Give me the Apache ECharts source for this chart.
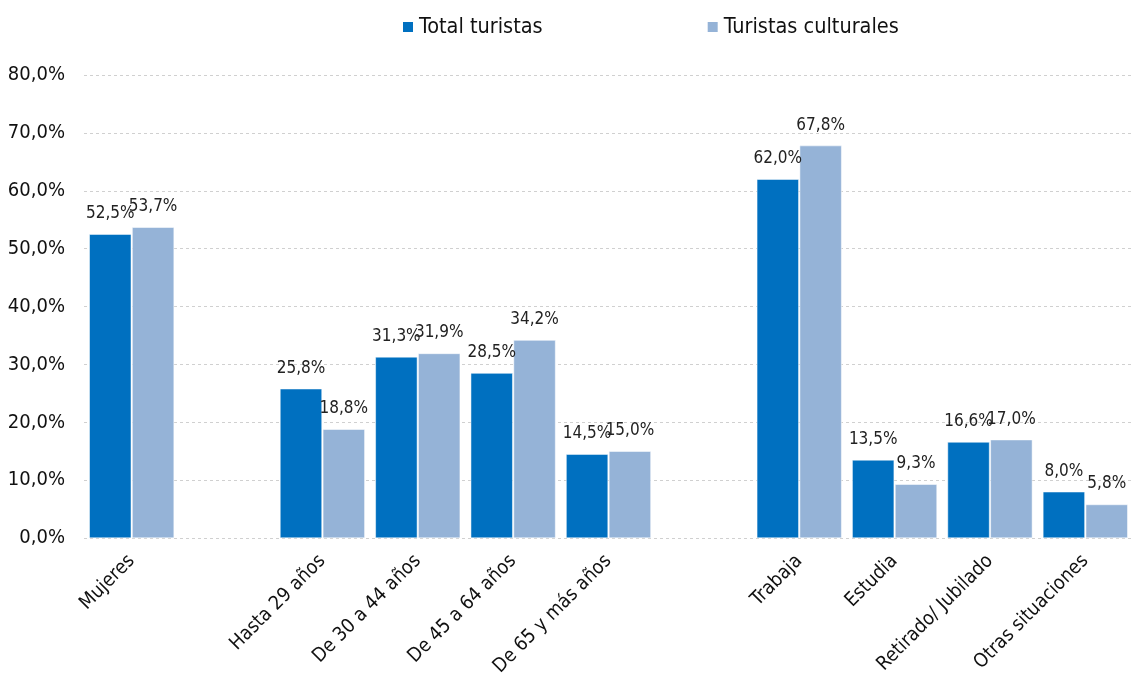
<!DOCTYPE html>
<html>
<head>
<meta charset="utf-8">
<script src="https://cdn.jsdelivr.net/npm/echarts@6/dist/echarts.min.js"></script>
<style>
  html, body { margin: 0; padding: 0; background: #ffffff; }
  #chart { width: 1137px; height: 679px; }
</style>
</head>
<body>
<div id="chart"></div>
<script>
// categorías (las vacías dejan el hueco entre grupos)
var categories = ['Mujeres', '', 'Hasta 29 años', 'De 30 a 44 años', 'De 45 a 64 años', 'De 65 y más años',
    '', 'Trabaja', 'Estudia', 'Retirado/ Jubilado', 'Otras situaciones'];
var totalTuristas = [52.5, null, 25.8, 31.3, 28.5, 14.5, null, 62.0, 13.5, 16.6, 8.0];
var turistasCulturales = [53.7, null, 18.8, 31.9, 34.2, 15.0, null, 67.8, 9.3, 17.0, 5.8];
var seriesNames = ['Total turistas', 'Turistas culturales'];

var FONT = '"DejaVu Sans Condensed", "Liberation Sans Narrow", sans-serif';

function fmt(v) {
    return v.toFixed(1).replace('.', ',') + '%';
}

var chart = echarts.init(document.getElementById('chart'));

var labelStyle = {
    show: true,
    position: 'top',
    distance: 12,
    color: '#222',
    fontSize: 17,
    fontFamily: FONT,
    formatter: function (p) { return fmt(p.value); }
};

chart.setOption({
    backgroundColor: '#ffffff',
    animation: false,
    color: ['#0070C0', '#95B3D7'],
    legend: {
        top: 11,
        left: 396,
        itemWidth: 12,
        itemHeight: 12,
        itemGap: 163,
        icon: 'rect',
        textStyle: { fontSize: 21.5, fontFamily: FONT, color: '#111' },
        data: seriesNames
    },
    grid: { left: 84, right: 4, top: 75, bottom: 140 },
    xAxis: {
        type: 'category',
        data: categories,
        axisLine: { show: false },
        axisTick: { show: false },
        axisLabel: {
            interval: 0,
            rotate: 45,
            margin: 20,
            fontSize: 19.5,
            fontFamily: FONT,
            color: '#111'
        }
    },
    yAxis: {
        type: 'value',
        min: 0,
        max: 80,
        interval: 10,
        axisLine: { show: false },
        axisTick: { show: false },
        axisLabel: {
            margin: 19,
            fontSize: 20,
            fontFamily: FONT,
            color: '#111',
            formatter: function (v) { return fmt(v); }
        },
        splitLine: { lineStyle: { color: '#d0d0d0', type: [3, 3] } }
    },
    series: [{
        name: seriesNames[0],
        type: 'bar',
        data: totalTuristas,
        barWidth: 42,
        barGap: '2%',
        itemStyle: { borderColor: '#ffffff', borderWidth: 0.5 },
        label: labelStyle
    }, {
        name: seriesNames[1],
        type: 'bar',
        data: turistasCulturales,
        barWidth: 42,
        barGap: '2%',
        itemStyle: { borderColor: '#ffffff', borderWidth: 0.5 },
        label: labelStyle
    }]
});
</script>
</body>
</html>
